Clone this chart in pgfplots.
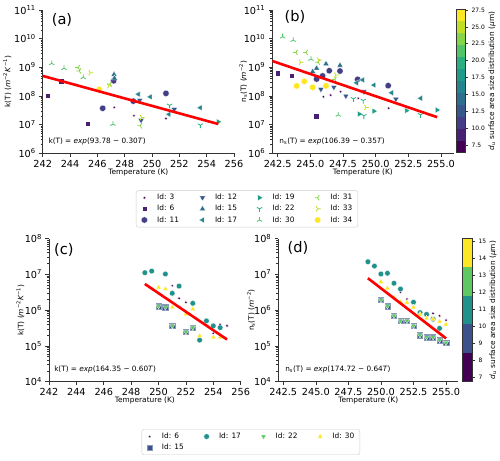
\documentclass[border=0pt]{standalone}
\usepackage{fontspec}
\setmainfont{DejaVu Sans}
\usepackage{pgfplots}
\pgfplotsset{compat=1.18}
\usetikzlibrary{plotmarks}

\definecolor{c3}{HTML}{440154}
\definecolor{c6}{HTML}{482173}
\definecolor{c11}{HTML}{433E85}
\definecolor{c12}{HTML}{38588C}
\definecolor{c15}{HTML}{2D708E}
\definecolor{c17}{HTML}{25858E}
\definecolor{c19}{HTML}{1E9B8A}
\definecolor{c22}{HTML}{2AB07F}
\definecolor{c30}{HTML}{52C569}
\definecolor{c31}{HTML}{86D549}
\definecolor{c33}{HTML}{C2DF23}
\definecolor{c34}{HTML}{FDE725}
\definecolor{b6}{HTML}{440154}
\definecolor{b15}{HTML}{3B528B}
\definecolor{b17}{HTML}{21918C}
\definecolor{b22}{HTML}{5EC962}
\definecolor{b30}{HTML}{FDE725}
\definecolor{fitred}{HTML}{FF0000}

\newcommand{\LA}[1]{\makebox[47.5pt][l]{\hspace*{7.6pt}#1}}
\newcommand{\LB}[1]{\makebox[28pt][l]{\hspace*{7.6pt}#1}}

\pgfplotsset{
  zzBase/.style={scale only axis, anchor=south west,
    axis x line=bottom, axis y line=left,
    axis line style={-, draw=black!80, line width=0.6pt},
    every outer x axis line/.append style={-},
    every outer y axis line/.append style={-},
    x axis line style={-}, y axis line style={-},
    tick style={draw=black!80, line width=0.6pt},
    major tick length=3.5pt, minor tick length=2pt, tick align=outside,
    tick label style={font=\fontsize{9.7}{11}\selectfont},
    label style={font=\fontsize{7.4}{9}\selectfont},
    clip mode=individual,
    xlabel={Temperature (K)},
    xlabel style={at={(axis description cs:0.5,-0.1326)},anchor=center}},
  zzTopY/.style={ymin=1e6, ymax=1e11, ytick={1e6,1e7,1e8,1e9,1e10,1e11},
    yticklabels={10\textsuperscript{6},10\textsuperscript{7},10\textsuperscript{8},10\textsuperscript{9},10\textsuperscript{10},10\textsuperscript{11}}},
  zzBotY/.style={ymin=1e4, ymax=1e8, ytick={1e4,1e5,1e6,1e7,1e8},
    yticklabels={10\textsuperscript{4},10\textsuperscript{5},10\textsuperscript{6},10\textsuperscript{7},10\textsuperscript{8}}},
  zzHalfX/.style={xtick={242.5,245,247.5,250,252.5,255},
    xticklabel style={/pgf/number format/.cd, fixed, fixed zerofill, precision=1}},
  zzLeg/.style={
    legend style={anchor=north west, draw=black!20, rounded corners=2pt, fill=white,
      inner xsep=5pt, inner ysep=1.5pt, font=\fontsize{7.4}{8}\selectfont}},
  zzCbar/.style={scale only axis, anchor=south west, xmin=0, xmax=1, xtick=\empty,
    axis on top, axis line style={draw=black!80, line width=0.5pt},
    tick style={draw=black!80, line width=0.5pt}, major tick length=3pt, tick align=outside,
    ytick pos=right, yticklabel pos=right,
    tick label style={font=\fontsize{6}{7}\selectfont},
    label style={font=\fontsize{7.4}{9}\selectfont},
    ylabel={\textit{d}\textsubscript{\textit{u}} surface area size distribution (\textit{μ}m)}},
  zzFM/.style={mark options={draw=white, fill=#1, line width=0.25pt}},
  zzSM/.style={mark options={draw=#1, line width=0.8pt}},
  zmA3/.style={mark=*, mark size=1.4pt, zzFM=c3},
  zmA6/.style={mark=square*, mark size=2.7pt, zzFM=c6},
  zmA11/.style={mark=*, mark size=3.2pt, zzFM=c11},
  zmA12/.style={mark=triangle*, mark size=3.4pt, mark options={rotate=180, draw=white, fill=c12, line width=0.25pt}},
  zmA15/.style={mark=triangle*, mark size=3.4pt, zzFM=c15},
  zmA17/.style={mark=triangle*, mark size=3.4pt, mark options={rotate=90, draw=white, fill=c17, line width=0.25pt}},
  zmA19/.style={mark=triangle*, mark size=3.4pt, mark options={rotate=-90, draw=white, fill=c19, line width=0.25pt}},
  zmA22/.style={mark=Mercedes star flipped, mark size=3pt, zzSM=c22},
  zmA30/.style={mark=Mercedes star, mark size=3pt, zzSM=c30},
  zmA31/.style={mark=Mercedes star, mark size=3pt, mark options={rotate=90, draw=c31, line width=0.8pt}},
  zmA33/.style={mark=Mercedes star, mark size=3pt, mark options={rotate=-90, draw=c33, line width=0.8pt}},
  zmA34/.style={mark=*, mark size=3.2pt, zzFM=c34},
  zmB6/.style={mark=*, mark size=1.4pt, zzFM=b6},
  zmB15/.style={mark=square*, mark size=2.7pt, mark options={draw=white!40!b15, fill=b15, line width=0.5pt}},
  zmB17/.style={mark=*, mark size=2.8pt, zzFM=b17},
  zmB22/.style={mark=triangle*, mark size=3.0pt, mark options={rotate=180, draw=white, fill=b22, line width=0.25pt}},
  zmB30/.style={mark=triangle*, mark size=3.0pt, zzFM=b30},
  zzFit/.style={fitred, line width=2.6pt, no marks},
}

\begin{document}
\begin{tikzpicture}
\useasboundingbox (0,0) rectangle (500pt,460pt);

% ---------------- (a) ----------------
\begin{axis}[zzBase, ymode=log, zzTopY, at={(42.7pt,306.7pt)}, width=191.3pt, height=143.3pt,
  xmin=242, xmax=256, xtick={242,244,...,256},
  /pgf/number format/assume math mode=true,
  ylabel={k(T) (\textit{m}\textsuperscript{−2}\textit{K}\textsuperscript{−1})},
  ylabel style={at={(axis description cs:-0.185,0.5)},anchor=center},
  zzLeg, legend columns=3, transpose legend, legend style={at={(axis description cs:0.4877,-0.2596)}}]
\addplot[only marks, zmA3] coordinates {(247.24,3.98e7) (248.68,2.04e7) (251.02,1.62e7)};
\addlegendentry{\LA{Id: 3}}
\addplot[only marks, zmA6] coordinates {(242.37,1.05e8) (243.34,3.31e8) (245.28,1.07e7)};
\addlegendentry{\LA{Id: 6}}
\addplot[only marks, zmA11] coordinates {(246.39,3.72e7) (247.19,3.39e8) (248.63,6.61e7) (251.02,1.23e8)};
\addlegendentry{\LA{Id: 11}}
\addplot[only marks, zmA12] coordinates {(249.2,1.41e7) (251.63,3.39e7) (249.1,7.08e7)};
\addlegendentry{\LA{Id: 12}}
\addplot[only marks, zmA15] coordinates {(247.22,5.62e8) (247.25,4.17e8)};
\addlegendentry{\LA{Id: 15}}
\addplot[only marks, zmA17] coordinates {(249.0,1.15e8) (249.87,9.33e7) (251.24,2.29e7) (253.53,3.89e7)};
\addlegendentry{\LA{Id: 17}}
\addplot[only marks, zmA19] coordinates {(254.85,1.26e7)};
\addlegendentry{\LA{Id: 19}}
\addplot[only marks, zmA22] coordinates {(251.29,4.68e7) (253.54,9.55e6)};
\addlegendentry{\LA{Id: 22}}
\addplot[only marks, zmA30] coordinates {(242.66,1.38e9) (243.56,9.33e8) (244.97,4.47e8) (247.14,1.05e7)};
\addlegendentry{\LA{Id: 30}}
\addplot[only marks, zmA31] coordinates {(244.6,9.77e8) (244.68,7.41e8) (246.92,2.57e8) (249.14,9.12e6)};
\addlegendentry{\LB{Id: 31}}
\addplot[only marks, zmA33] coordinates {(245.48,6.46e8) (249.24,1.78e7) (246.85,2.29e8)};
\addlegendentry{\LB{Id: 33}}
\addplot[only marks, zmA34] coordinates {(246.14,1.70e8)};
\addlegendentry{\LB{Id: 34}}
\addplot[zzFit, forget plot] coordinates {(242,5.01e8) (254.85,1.05e7)};
\node[anchor=west, font=\fontsize{7.3}{9}\selectfont] at (axis description cs:0.012,0.081) {k(T) = \textit{exp}(93.78 − 0.30\textit{T})};
\node[font=\fontsize{14.6}{16}\selectfont] at (axis description cs:0.101,0.930) {(a)};
\end{axis}

% ---------------- (b) ----------------
\begin{axis}[zzBase, ymode=log, zzTopY, zzHalfX, at={(272.3pt,306.7pt)}, width=181.2pt, height=143.3pt,
  xmin=242.09, xmax=255.96,
  /pgf/number format/assume math mode=true,
  ylabel={n\textsubscript{s}(T) (\textit{m}\textsuperscript{−2})},
  ylabel style={at={(axis description cs:-0.161,0.5)},anchor=center}]
\addplot[only marks, zmA3] coordinates {(246.0,9.33e7) (246.56,1.07e8) (247.32,1.41e8) (248.67,8.32e7) (250.99,3.72e7)};
\addplot[only marks, zmA6] coordinates {(242.5,6.17e8) (243.57,5.01e8) (245.43,2.00e7)};
\addplot[only marks, zmA11] coordinates {(245.48,3.89e8) (245.94,5.01e8) (246.45,7.59e8) (247.27,7.41e8) (248.62,3.80e8) (250.96,2.29e8)};
\addplot[only marks, zmA12] coordinates {(245.81,1.70e8) (246.8,2.00e8) (247.72,1.00e8) (249.1,1.41e8) (251.55,7.76e7)};
\addplot[only marks, zmA15] coordinates {(246.2,1.32e9) (247.27,1.17e9) (245.48,9.33e8) (245.18,7.08e8)};
\addplot[only marks, zmA17] coordinates {(248.54,2.88e8) (249.0,3.63e8) (249.87,2.40e8) (251.22,1.29e8) (253.44,8.32e7)};
\addplot[only marks, zmA19] coordinates {(248.75,2.34e7) (249.87,2.95e7) (252.37,3.09e7) (254.71,3.24e7)};
\addplot[only marks, zmA22] coordinates {(248.3,7.94e7) (249.05,6.92e7) (249.1,2.04e7) (253.44,2.19e7)};
\addplot[only marks, zmA30] coordinates {(242.88,1.17e10) (243.69,8.91e9) (245.05,1.95e9) (247.14,2.19e7)};
\addplot[only marks, zmA31] coordinates {(243.9,3.31e9) (244.67,3.31e9) (245.6,1.51e9) (246.88,3.80e8)};
\addplot[only marks, zmA33] coordinates {(244.26,1.51e9) (245.65,1.78e9) (246.96,5.37e8) (249.26,3.98e7)};
\addplot[only marks, zmA34] coordinates {(243.95,2.24e8) (244.54,3.24e8) (245.18,2.00e8) (246.2,2.24e8)};
\addplot[zzFit] coordinates {(242.09,1.66e9) (254.71,1.82e7)};
\node[anchor=west, font=\fontsize{7.3}{9}\selectfont] at (axis description cs:0.020,0.081) {n\textsubscript{s}(T) = \textit{exp}(106.39 − 0.35\textit{T})};
\node[font=\fontsize{14.6}{16}\selectfont] at (axis description cs:0.125,0.951) {(b)};
\end{axis}

% ---------------- colorbar top ----------------
\begin{axis}[zzCbar, at={(456.7pt,307.5pt)}, width=8.3pt, height=143pt,
  ymin=6.39, ymax=27.57, ytick={7.5,10,...,27.5},
  /pgf/number format/assume math mode=true,
  yticklabel style={/pgf/number format/.cd, fixed, fixed zerofill, precision=1},
  ylabel style={at={(axis description cs:4.25,0.5)},anchor=center}]
\addplot[fill=c3, draw=none] coordinates {(0,6.39) (1,6.39) (1,8.155) (0,8.155)};
\addplot[fill=c6, draw=none] coordinates {(0,8.155) (1,8.155) (1,9.92) (0,9.92)};
\addplot[fill=c11, draw=none] coordinates {(0,9.92) (1,9.92) (1,11.685) (0,11.685)};
\addplot[fill=c12, draw=none] coordinates {(0,11.685) (1,11.685) (1,13.45) (0,13.45)};
\addplot[fill=c15, draw=none] coordinates {(0,13.45) (1,13.45) (1,15.215) (0,15.215)};
\addplot[fill=c17, draw=none] coordinates {(0,15.215) (1,15.215) (1,16.98) (0,16.98)};
\addplot[fill=c19, draw=none] coordinates {(0,16.98) (1,16.98) (1,18.745) (0,18.745)};
\addplot[fill=c22, draw=none] coordinates {(0,18.745) (1,18.745) (1,20.51) (0,20.51)};
\addplot[fill=c30, draw=none] coordinates {(0,20.51) (1,20.51) (1,22.275) (0,22.275)};
\addplot[fill=c31, draw=none] coordinates {(0,22.275) (1,22.275) (1,24.04) (0,24.04)};
\addplot[fill=c33, draw=none] coordinates {(0,24.04) (1,24.04) (1,25.805) (0,25.805)};
\addplot[fill=c34, draw=none] coordinates {(0,25.805) (1,25.805) (1,27.57) (0,27.57)};
\end{axis}

% ---------------- (c) ----------------
\begin{axis}[zzBase, ymode=log, zzBotY, at={(49pt,78.3pt)}, width=191.7pt, height=143.2pt,
  xmin=242, xmax=256, xtick={242,244,...,256},
  /pgf/number format/assume math mode=true,
  ylabel={k(T) (\textit{m}\textsuperscript{−2}\textit{K}\textsuperscript{−1})},
  ylabel style={at={(axis description cs:-0.149,0.5)},anchor=center},
  zzLeg, legend columns=4, legend style={at={(axis description cs:0.4836,-0.3324)}}]
\addplot[only marks, zmB6] coordinates {(251,4.79e6) (251.5,2.14e6) (252,1.66e6) (254,2.24e5) (254.5,3.98e5) (255,3.63e5)};
\addlegendentry{\LA{Id: 6}}
\addplot[only marks, zmB17] coordinates {(249,1.11e7) (249.5,1.23e7) (250.5,1.02e7) (251,2.95e6) (251.5,4.68e6) (252.5,1.55e6) (253.5,5.01e5) (254,3.63e5) (254.5,3.24e5) (253,1.45e5)};
\addlegendentry{\LA{Id: 17}}
\addplot[only marks, zmB22] coordinates {(250,1.29e6) (250.5,1.20e6) (251,3.63e5) (252,2.45e5) (252.5,3.24e5)};
\addlegendentry{\LA{Id: 22}}
\addplot[only marks, zmB30] coordinates {(250,4.27e6) (250.5,3.89e6) (251,1.20e6) (252,7.76e5) (252.5,1.07e6) (253,1.91e5) (254,1.74e5) (254.5,1.74e5)};
\addlegendentry{\LB{Id: 30}}
\addplot[only marks, zmB15] coordinates {(250,1.29e6) (250.5,1.20e6) (251,3.63e5) (252,2.45e5) (252.5,3.24e5)};
\addlegendentry{\LA{Id: 15}}
\addplot[only marks, forget plot, zmB22] coordinates {(250,1.29e6) (250.5,1.20e6) (251,3.63e5) (252,2.45e5) (252.5,3.24e5)};
\addplot[zzFit, forget plot] coordinates {(249,5.37e6) (255,1.51e5)};
\node[anchor=west, font=\fontsize{7.3}{9}\selectfont] at (axis description cs:0.009,0.087) {k(T) = \textit{exp}(164.35 − 0.60\textit{T})};
\node[font=\fontsize{14.6}{16}\selectfont] at (axis description cs:0.078,0.92) {(c)};
\end{axis}

% ---------------- (d) ----------------
\begin{axis}[zzBase, ymode=log, zzBotY, zzHalfX, at={(278.3pt,78.3pt)}, width=180pt, height=143.2pt,
  xmin=242.12, xmax=255.94,
  /pgf/number format/assume math mode=true,
  ylabel={n\textsubscript{s}(T) (\textit{m}\textsuperscript{−2})},
  ylabel style={at={(axis description cs:-0.152,0.5)},anchor=center}]
\addplot[only marks, zmB6] coordinates {(251.5,3.16e6) (252,2.04e6) (254,8.13e5) (254.5,6.92e5) (255,5.25e5)};
\addplot[only marks, zmB15] coordinates {(250,1.91e6) (250.5,1.29e6) (251,6.92e5) (251.5,5.01e5) (252,5.01e5) (252.5,3.63e5) (253,2.00e5) (253.5,1.74e5) (254,1.74e5) (254.5,1.45e5) (255,1.23e5)};
\addplot[only marks, zmB17] coordinates {(249,2.24e7) (249.5,1.70e7) (250,1.02e7) (250.5,1.07e7) (251,5.62e6) (251.5,3.89e6) (252.5,1.66e6) (253,8.51e5) (253.5,7.59e5) (254,5.62e5) (254.5,3.09e5)};
\addplot[only marks, zmB22] coordinates {(250,1.91e6) (250.5,1.29e6) (251,6.92e5) (251.5,5.01e5) (252,5.01e5) (252.5,3.63e5) (253,2.00e5) (253.5,1.74e5) (254,1.74e5) (254.5,1.45e5) (255,1.23e5)};
\addplot[only marks, zmB30] coordinates {(250,6.17e6) (250.5,4.07e6) (251,2.29e6) (251.5,1.70e6) (252,1.62e6) (252.5,1.20e6) (253,7.59e5) (253.5,5.89e5) (254,5.62e5) (254.5,4.79e5) (255,3.98e5)};
\addplot[zzFit] coordinates {(249,7.76e6) (255,1.62e5)};
\node[anchor=west, font=\fontsize{7.3}{9}\selectfont] at (axis description cs:0.019,0.087) {n\textsubscript{s}(T) = \textit{exp}(174.72 − 0.64\textit{T})};
\node[font=\fontsize{14.6}{16}\selectfont] at (axis description cs:0.109,0.937) {(d)};
\end{axis}

% ---------------- colorbar bottom ----------------
\begin{axis}[zzCbar, at={(462.3pt,78.3pt)}, width=9.7pt, height=143.2pt,
  ymin=6.76, ymax=15.19, ytick={7,8,...,15},
  /pgf/number format/assume math mode=true,
  ylabel style={at={(axis description cs:3.16,0.5)},anchor=center}]
\addplot[fill=b6, draw=none] coordinates {(0,6.76) (1,6.76) (1,8.446) (0,8.446)};
\addplot[fill=b15, draw=none] coordinates {(0,8.446) (1,8.446) (1,10.132) (0,10.132)};
\addplot[fill=b17, draw=none] coordinates {(0,10.132) (1,10.132) (1,11.818) (0,11.818)};
\addplot[fill=b22, draw=none] coordinates {(0,11.818) (1,11.818) (1,13.504) (0,13.504)};
\addplot[fill=b30, draw=none] coordinates {(0,13.504) (1,13.504) (1,15.19) (0,15.19)};
\end{axis}
\end{tikzpicture}
\end{document}
